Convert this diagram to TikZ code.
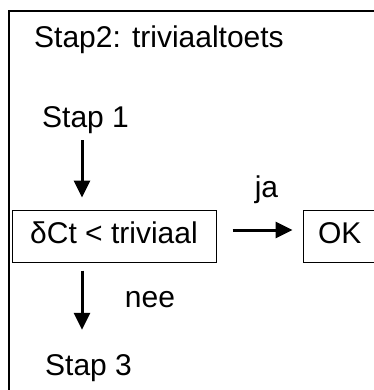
\documentclass[tikz,border=0pt]{standalone}
\usepackage{fontspec}
\setmainfont{Liberation Sans}
\usepackage{tikz}
\usetikzlibrary{positioning,arrows.meta}

\tikzset{
  txt/.style={inner sep=0pt, text height=21pt, text depth=6pt},
  box/.style={draw, line width=1pt, inner sep=0pt, text height=21pt, text depth=6pt, minimum height=52pt},
  arr/.style={->, line width=3pt}
}

\begin{document}
\begin{tikzpicture}[x=1pt, y=1pt, >={Triangle[length=17pt,width=16pt]},
    font=\fontsize{30}{35}\selectfont]
  \useasboundingbox (0,0) rectangle (373,-390);
  \draw[line width=2pt] (9,-11) rectangle (400,-400);

  \node  [txt, anchor=west] (ttl) at (34,-40) {Stap2: triviaaltoets};
  \node  [txt, anchor=west] (st1) at (42,-120.5) {Stap 1};
  \node  [box, minimum width=204pt] (chk) at (114,-236) {δCt < triviaal};
  \node  [box, right=86pt of chk, text width=50pt, align=left, inner xsep=15pt] (ok) {OK};
  \node  [txt] (ja) at (266.5,-189.5) {ja};
  \node  [txt] (nee) at (150,-299.5) {nee};
  \node  [txt, anchor=west] (st3) at (45,-367.5) {Stap 3};

  \coordinate (ax) at ([xshift=40pt]st1.west);
  \draw[arr, shorten <=6pt, shorten >=12pt]  (ax |- st1.south) -- (ax |- chk.north);
  \draw[arr, shorten <=16pt, shorten >=10pt] ([yshift=6pt]chk.east) -- ([yshift=6pt]ok.west);
  \draw[arr, shorten <=8pt, shorten >=24pt]  (ax |- chk.south) -- (ax |- st3.north);
\end{tikzpicture}
\end{document}
